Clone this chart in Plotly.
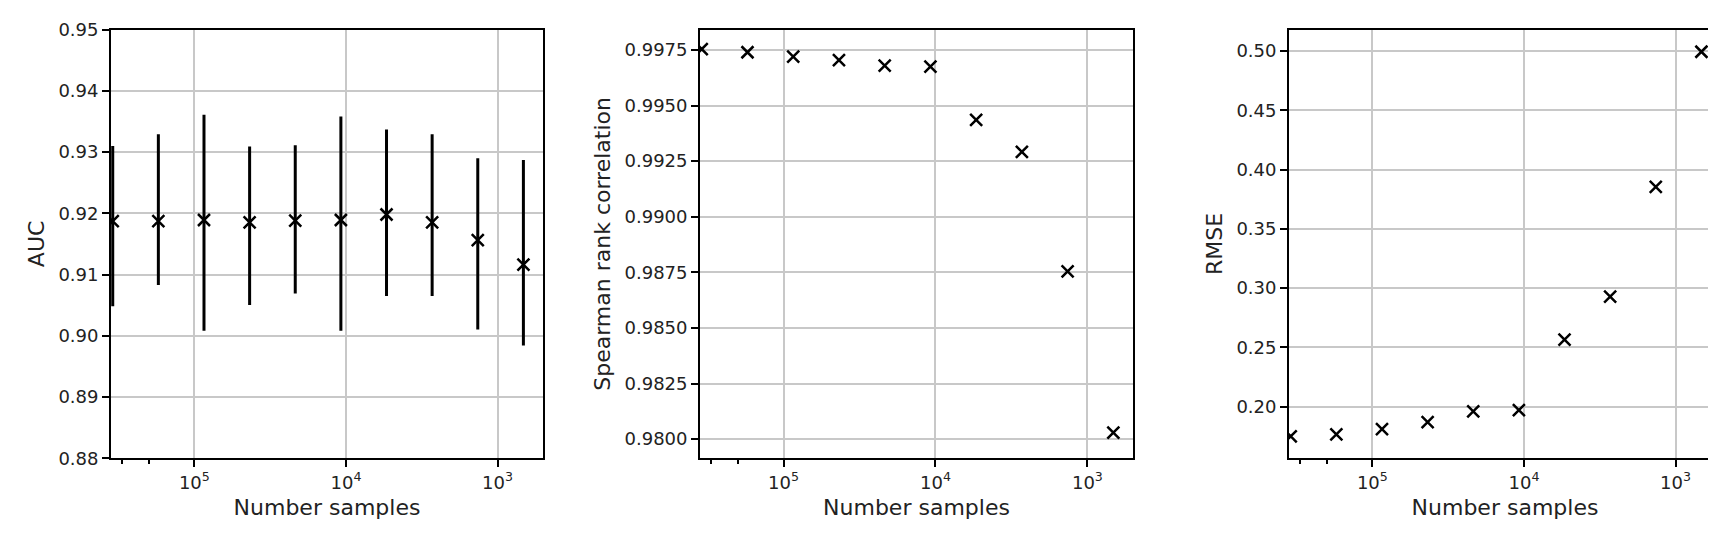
import plotly.graph_objects as go

samples = [675 * 2**k for k in range(9, -1, -1)]
auc = [0.9187, 0.9187, 0.9189, 0.9185, 0.9188, 0.9189, 0.9198, 0.9185, 0.9156, 0.9116]
auc_hi = [0.9310, 0.9329, 0.9361, 0.9309, 0.9311, 0.9358, 0.9337, 0.9329, 0.9290, 0.9287]
auc_lo = [0.9048, 0.9083, 0.9008, 0.9050, 0.9069, 0.9008, 0.9065, 0.9065, 0.9010, 0.8984]
spearman = [0.99754, 0.99740, 0.99720, 0.99705, 0.99680, 0.99675, 0.99436, 0.99292, 0.98754, 0.98029]
rmse = [0.175, 0.1766, 0.181, 0.187, 0.196, 0.197, 0.2565, 0.2928, 0.3853, 0.4994]

W, H = 1716, 539
panels = [(103, 535), (692, 1125), (1281, 1713)]
top, bot = 11, 457

fig = go.Figure()
font = dict(family="DejaVu Sans", size=18, color="#222")
mk = dict(symbol="x-thin", size=12, line=dict(width=2.5, color="black"), color="black")

fig.add_trace(go.Scatter(x=samples, y=auc, mode="markers", marker=mk,
    error_y=dict(type="data", symmetric=False,
                 array=[h - m for h, m in zip(auc_hi, auc)],
                 arrayminus=[m - l for m, l in zip(auc, auc_lo)],
                 color="black", thickness=3, width=0),
    xaxis="x", yaxis="y", showlegend=False))
fig.add_trace(go.Scatter(x=samples, y=spearman, mode="markers", marker=mk,
    xaxis="x2", yaxis="y2", showlegend=False))
fig.add_trace(go.Scatter(x=samples, y=rmse, mode="markers", marker=mk,
    xaxis="x3", yaxis="y3", showlegend=False))

yranges = [[0.88, 0.95], [0.97914, 0.99842], [0.1565, 0.5181]]
ydticks = [0.01, 0.0025, 0.05]
yfmt = [".2f", ".4f", ".2f"]
ytitles = ["AUC", "Spearman rank correlation", "RMSE"]

layout = dict(width=W, height=H, margin=dict(l=0, r=0, t=0, b=0),
              plot_bgcolor="white", paper_bgcolor="white", font=font)
for i, (l, r) in enumerate(panels):
    s = "" if i == 0 else str(i + 1)
    layout["xaxis" + s] = dict(
        domain=[l / W, r / W], type="log", range=[5.55, 2.70],
        anchor="y" + s, tickvals=[1e5, 1e4, 1e3],
        ticktext=["10<sup>5</sup>", "10<sup>4</sup>", "10<sup>3</sup>"],
        ticks="outside", ticklen=7, tickcolor="black", tickwidth=1.5,
        minor=dict(ticks="outside", ticklen=4, tickcolor="black", showgrid=False),
        showgrid=True, gridcolor="#c8c8c8", gridwidth=1.5,
        showline=True, linecolor="black", linewidth=1.8, mirror=True,
        title=dict(text="Number samples", standoff=8), zeroline=False)
    layout["yaxis" + s] = dict(
        domain=[1 - bot / H, 1 - top / H], range=yranges[i],
        anchor="x" + s, dtick=ydticks[i], tick0=0.0, tickformat=yfmt[i],
        ticks="outside", ticklen=7, tickcolor="black", tickwidth=1.5,
        showgrid=True, gridcolor="#c8c8c8", gridwidth=1.5,
        showline=True, linecolor="black", linewidth=1.8, mirror=True,
        title=dict(text=ytitles[i], standoff=8), zeroline=False)
fig.update_layout(**layout)
fig.write_html("out.html")
